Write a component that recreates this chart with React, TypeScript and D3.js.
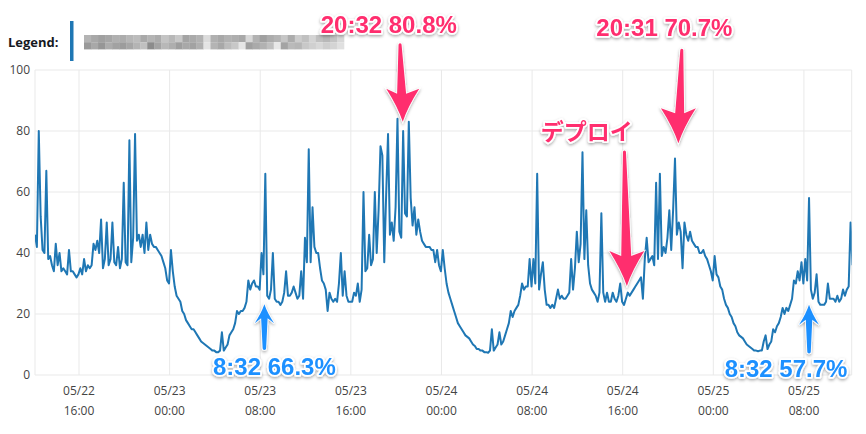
import React, { useEffect, useRef } from "react";
import * as d3 from "d3";

// CPU utilization (%), one sample every 10 minutes from 05/22 12:07
const startTime = new Date(2019, 4, 22, 12, 7);
const endTime = new Date(2019, 4, 25, 12, 13);
const stepMinutes = 10;

const cpu0522Noon = [
  46, 42, 80, 52, 41, 40, 67, 38, 39, 36, 34, 43, 36, 40, 34, 35, 34, 33, 41, 34, 34, 33, 32, 33,
];
const cpu0522Evening = [
  35, 33, 38, 34, 36, 35, 36, 43, 41, 44, 40, 51, 35, 38, 50, 36, 38, 50, 37, 36, 42, 35, 38, 63,
  37, 36, 77, 37, 45, 79, 44, 46, 42, 46, 40, 50, 41, 46, 43, 42, 42, 41, 40, 39, 37, 35, 31, 30,
];
const cpu0523Night = [
  41, 34, 29, 26, 25, 24, 21, 20, 18, 17, 16, 15, 15, 14, 13, 12, 11, 10.5, 10, 9.5, 9, 8.5, 8, 8,
  7.5, 7.5, 8, 14, 8, 9, 10, 13, 14, 15, 17, 21, 20, 21, 21, 22, 24, 31, 28, 30, 31, 29, 29, 28,
];
const cpu0523Day = [
  40, 33, 66, 26, 25, 28, 40, 25, 24, 24, 23, 24, 27, 34, 26, 26, 27, 29, 27, 25, 26, 34, 25, 45,
  37, 74, 37, 55, 42, 40, 40, 35, 31, 30, 28, 21, 27, 25, 24, 25, 24, 30, 40, 26, 34, 26, 24, 24,
];
const cpu0523Evening = [
  24, 27, 26, 30, 24, 28, 60, 34, 35, 46, 36, 38, 60, 40, 54, 75, 72, 37, 59, 79, 46, 50, 44, 55,
  84, 47, 45, 80, 53, 52, 83, 58, 49, 55, 46, 51, 47, 44, 43, 42, 42, 42, 41, 41, 37, 41, 36, 34,
];
const cpu0524Night = [
  41, 35, 30, 27, 25, 23, 21, 19, 17, 16, 15, 14, 13, 12.5, 12, 11, 10, 9.5, 8.5, 8.5, 8, 8, 7.5, 7.5,
  7.3, 8, 15, 8, 9, 10, 14, 10, 11, 13, 15, 17, 21, 19, 21, 22, 23, 26, 30, 28, 29, 29, 38, 29,
];
const cpu0524Day = [
  38, 30, 66, 28, 33, 37, 28, 23, 23, 22, 23, 22, 25, 28, 25, 26, 25, 25, 26, 27, 38, 28, 35, 47,
  37, 43, 73, 38, 54, 36, 30, 28, 27, 26, 24, 27, 53, 27, 24, 27, 24, 24, 27, 25, 24, 26, 30, 24,
];
const cpu0524Evening = [
  23, 25, 27, 26, 27, 28, 29, 30, 31, 32, 25, 38, 45, 37, 38, 39, 36, 63, 38, 66, 39, 42, 40, 45,
  54, 41, 54, 71, 46, 50, 47, 35, 50, 46, 44, 47, 44, 43, 42, 42, 40, 40, 41, 39, 38, 36, 34, 31,
];
const cpu0525Night = [
  39, 33, 32, 29, 28, 25, 23, 22, 20, 19, 17, 16, 14, 13, 12.5, 12, 11, 10, 9.5, 9, 8.5, 8, 8, 7.8,
  8, 8, 11, 13, 8.5, 10, 11, 15, 14, 16, 17, 19, 22, 20, 22, 21, 23, 25, 31, 30, 34, 31, 37, 30,
];
const cpu0525Morning = [
  38, 31, 58, 28, 25, 27, 33, 24, 23, 23, 23, 24, 30, 25, 25, 25, 24, 26, 24, 25, 28, 26, 28, 29, 50, 36,
];

const cpuValues = [
  ...cpu0522Noon,
  ...cpu0522Evening,
  ...cpu0523Night,
  ...cpu0523Day,
  ...cpu0523Evening,
  ...cpu0524Night,
  ...cpu0524Day,
  ...cpu0524Evening,
  ...cpu0525Night,
  ...cpu0525Morning,
];

const yTicks = [0, 20, 40, 60, 80, 100];
const xTicks = [
  "2019/05/22 16:00",
  "2019/05/23 00:00",
  "2019/05/23 08:00",
  "2019/05/23 16:00",
  "2019/05/24 00:00",
  "2019/05/24 08:00",
  "2019/05/24 16:00",
  "2019/05/25 00:00",
  "2019/05/25 08:00",
];

// callouts drawn on top of the screenshot
const calloutTexts = ["20:32 80.8%", "20:31 70.7%", "デプロイ", "8:32 66.3%", "8:32 57.7%"];
const calloutTimes = [
  "2019/05/23 20:35",
  "2019/05/24 20:55",
  "2019/05/24 16:22",
  "2019/05/23 08:22",
  "2019/05/25 08:27",
];
const calloutValues = [83, 76, 29.2, 23.2, 23];

// blurred legend name (mosaic grey levels)
const mosaicTop = [
  0xb4, 0xa8, 0xa0, 0xa6, 0xb0, 0xac, 0xb6, 0xbc, 0xa9, 0xb4, 0xac, 0xc4, 0xb8, 0xc8, 0xa4, 0xaa, 0xb2, 0xdc, 0xb0,
  0xa8, 0xb2, 0xae, 0xa8, 0xd8, 0xb2, 0xa0, 0xac, 0xb4, 0xc6, 0xac, 0xcc, 0xc0, 0xd4, 0xc0, 0xb8, 0xc4, 0xd8,
];
const mosaicBottom = [
  0x9a, 0xa8, 0x96, 0xac, 0xa2, 0x9c, 0xa6, 0xb4, 0xc0, 0x8c, 0xa4, 0xb8, 0xae, 0x9e, 0xa8, 0xa2, 0xb0, 0xe4, 0xb4,
  0xa8, 0xbc, 0xc8, 0xe6, 0xa0, 0xaa, 0xb2, 0xc0, 0xe8, 0xa4, 0xba, 0xb6, 0xc8, 0xd0, 0xd8, 0xce, 0xd4, 0xe0,
];

const PINK = "#ff2d6e";
const BLUE = "#1e90ff";

// arrow geometry for each callout
const arrowStyle = [
  { color: PINK, dir: "down", len: 77, head: 33, half: 16.5, tail: 3, neck: 9, tailDx: -2.7, labelDx: -14, labelDy: -12, size: 24 },
  { color: PINK, dir: "down", len: 93, head: 35, half: 17.5, tail: 3, neck: 9, tailDx: 3.4, labelDx: -14, labelDy: -14, size: 24 },
  { color: PINK, dir: "down", len: 134, head: 35, half: 17.5, tail: 3, neck: 10, tailDx: -2.4, labelDx: -40, labelDy: -12, size: 23 },
  { color: BLUE, dir: "up", len: 44, head: 19, half: 9.7, tail: 3.5, neck: 6.5, tailDx: 0, labelDx: 10, labelDy: 27, size: 24 },
  { color: BLUE, dir: "up", len: 47, head: 20, half: 10, tail: 3.5, neck: 6.5, tailDx: 0, labelDx: -23, labelDy: 25, size: 24 },
];

function arrowPath(a: any) {
  const s = a.dir === "down" ? -1 : 1;
  const ty = s * a.len;
  const by = s * a.head;
  const ny = s * (a.head - 5);
  const nx = a.tailDx * (a.head / a.len);
  const tw = a.tail / 2;
  const nw = a.neck / 2;
  return [
    `M${a.tailDx - tw},${ty}`,
    `L${nx - nw},${ny}`,
    `L${-a.half},${by}`,
    `Q${-a.half * 0.3},${by * 0.45} 0,0`,
    `Q${a.half * 0.3},${by * 0.45} ${a.half},${by}`,
    `L${nx + nw},${ny}`,
    `L${a.tailDx + tw},${ty}`,
    `A${tw},${tw} 0 0 ${s < 0 ? 0 : 1} ${a.tailDx - tw},${ty}`,
    "Z",
  ].join(" ");
}

const CpuChart = () => {
  const ref = useRef<SVGSVGElement>(null);

  useEffect(() => {
    drawChart();
  }, []);

  function drawChart() {
    const width = 866;
    const height = 434;
    const plot = { left: 35, right: 851.7, top: 70, bottom: 375 };
    const parse = d3.timeParse("%Y/%m/%d %H:%M");

    const svg = d3.select(ref.current);
    svg.selectAll("*").remove();
    svg.attr("width", width).attr("height", height);

    const defs = svg.append("defs");
    defs
      .append("clipPath")
      .attr("id", "plot-clip")
      .append("rect")
      .attr("x", plot.left)
      .attr("y", plot.top - 10)
      .attr("width", plot.right - plot.left)
      .attr("height", plot.bottom - plot.top + 10);
    defs
      .append("filter")
      .attr("id", "soft-shadow")
      .attr("x", "-20%")
      .attr("y", "-20%")
      .attr("width", "140%")
      .attr("height", "160%")
      .append("feDropShadow")
      .attr("dx", 0)
      .attr("dy", 1.5)
      .attr("stdDeviation", 1.5)
      .attr("flood-color", "#000")
      .attr("flood-opacity", 0.35);

    const data = cpuValues.map((v, i) => ({
      time: d3.timeMinute.offset(startTime, i * stepMinutes),
      value: v,
    }));

    const xScale = d3.scaleTime().domain([startTime, endTime]).range([plot.left, plot.right]);
    const yScale = d3.scaleLinear().domain([0, 100]).range([plot.bottom, plot.top]);

    // legend
    svg
      .append("text")
      .attr("x", 8)
      .attr("y", 46.5)
      .attr("font-family", "Open Sans, sans-serif")
      .attr("font-weight", 700)
      .attr("font-size", 13)
      .attr("fill", "#16191f")
      .text("Legend:");
    svg.append("rect").attr("x", 70).attr("y", 21).attr("width", 3.5).attr("height", 40).attr("fill", "#1f77b4");
    const mosaicX = d3.scaleLinear().domain([0, mosaicTop.length]).range([84, 344]);
    [mosaicTop, mosaicBottom].forEach((row, r) => {
      svg
        .append("g")
        .selectAll("rect")
        .data(row)
        .join("rect")
        .attr("x", (_, i) => mosaicX(i))
        .attr("y", 35 + r * 7.2)
        .attr("width", mosaicX(1) - mosaicX(0) + 0.3)
        .attr("height", 7.2)
        .attr("fill", (g) => d3.rgb(g, g, g).formatHex());
    });

    // grid
    const grid = svg.append("g").attr("stroke", "#e9e9e9").attr("stroke-width", 1);
    grid
      .selectAll("line.h")
      .data(yTicks)
      .join("line")
      .attr("class", "h")
      .attr("x1", plot.left)
      .attr("x2", plot.right)
      .attr("y1", (d) => yScale(d))
      .attr("y2", (d) => yScale(d));
    const tickDates = xTicks.map((t) => parse(t) as Date);
    grid
      .selectAll("line.v")
      .data([startTime, ...tickDates, endTime])
      .join("line")
      .attr("class", "v")
      .attr("x1", (d) => xScale(d))
      .attr("x2", (d) => xScale(d))
      .attr("y1", plot.top)
      .attr("y2", plot.bottom);

    // y labels
    svg
      .append("g")
      .selectAll("text")
      .data(yTicks)
      .join("text")
      .attr("x", 30)
      .attr("y", (d) => yScale(d))
      .attr("dy", "0.35em")
      .attr("text-anchor", "end")
      .attr("font-family", "Open Sans, sans-serif")
      .attr("font-size", 12)
      .attr("fill", "#444")
      .text((d) => d);

    // x labels (date over time)
    const xl = svg
      .append("g")
      .attr("font-family", "Open Sans, sans-serif")
      .attr("font-size", 12)
      .attr("fill", "#444")
      .attr("text-anchor", "middle")
      .selectAll("g")
      .data(tickDates)
      .join("g")
      .attr("transform", (d) => `translate(${xScale(d)},0)`);
    xl.append("text").attr("y", 394.5).text((d) => d3.timeFormat("%m/%d")(d));
    xl.append("text").attr("y", 414.5).text((d) => d3.timeFormat("%H:%M")(d));

    // series
    const line = d3
      .line<any>()
      .x((d) => xScale(d.time))
      .y((d) => yScale(d.value));
    svg
      .append("path")
      .datum(data)
      .attr("clip-path", "url(#plot-clip)")
      .attr("fill", "none")
      .attr("stroke", "#1f77b4")
      .attr("stroke-width", 2)
      .attr("stroke-linejoin", "round")
      .attr("d", line);

    // callouts
    calloutTexts.forEach((label, i) => {
      const a = arrowStyle[i];
      const tx = xScale(parse(calloutTimes[i]) as Date);
      const ty = yScale(calloutValues[i]);
      const g = svg.append("g").attr("transform", `translate(${tx},${ty})`).attr("filter", "url(#soft-shadow)");
      g.append("path")
        .attr("d", arrowPath(a))
        .attr("fill", a.color)
        .attr("stroke", "#fff")
        .attr("stroke-width", 1.5)
        .attr("paint-order", "stroke");
      const tailY = a.dir === "down" ? -a.len : a.len;
      g.append("text")
        .attr("x", a.labelDx)
        .attr("y", tailY + a.labelDy)
        .attr("text-anchor", "middle")
        .attr("font-family", i === 2 ? "Noto Sans CJK JP, sans-serif" : "Liberation Sans, Arial, sans-serif")
        .attr("font-weight", 700)
        .attr("font-size", a.size)
        .attr("fill", a.color)
        .attr("stroke", "#fff")
        .attr("stroke-width", 3.5)
        .attr("stroke-linejoin", "round")
        .attr("paint-order", "stroke")
        .text(label);
    });
  }

  return <svg ref={ref} style={{ position: "absolute", left: 0, top: 0, display: "block", background: "#fff" }} />;
};

export default function App() {
  return <CpuChart />;
}
